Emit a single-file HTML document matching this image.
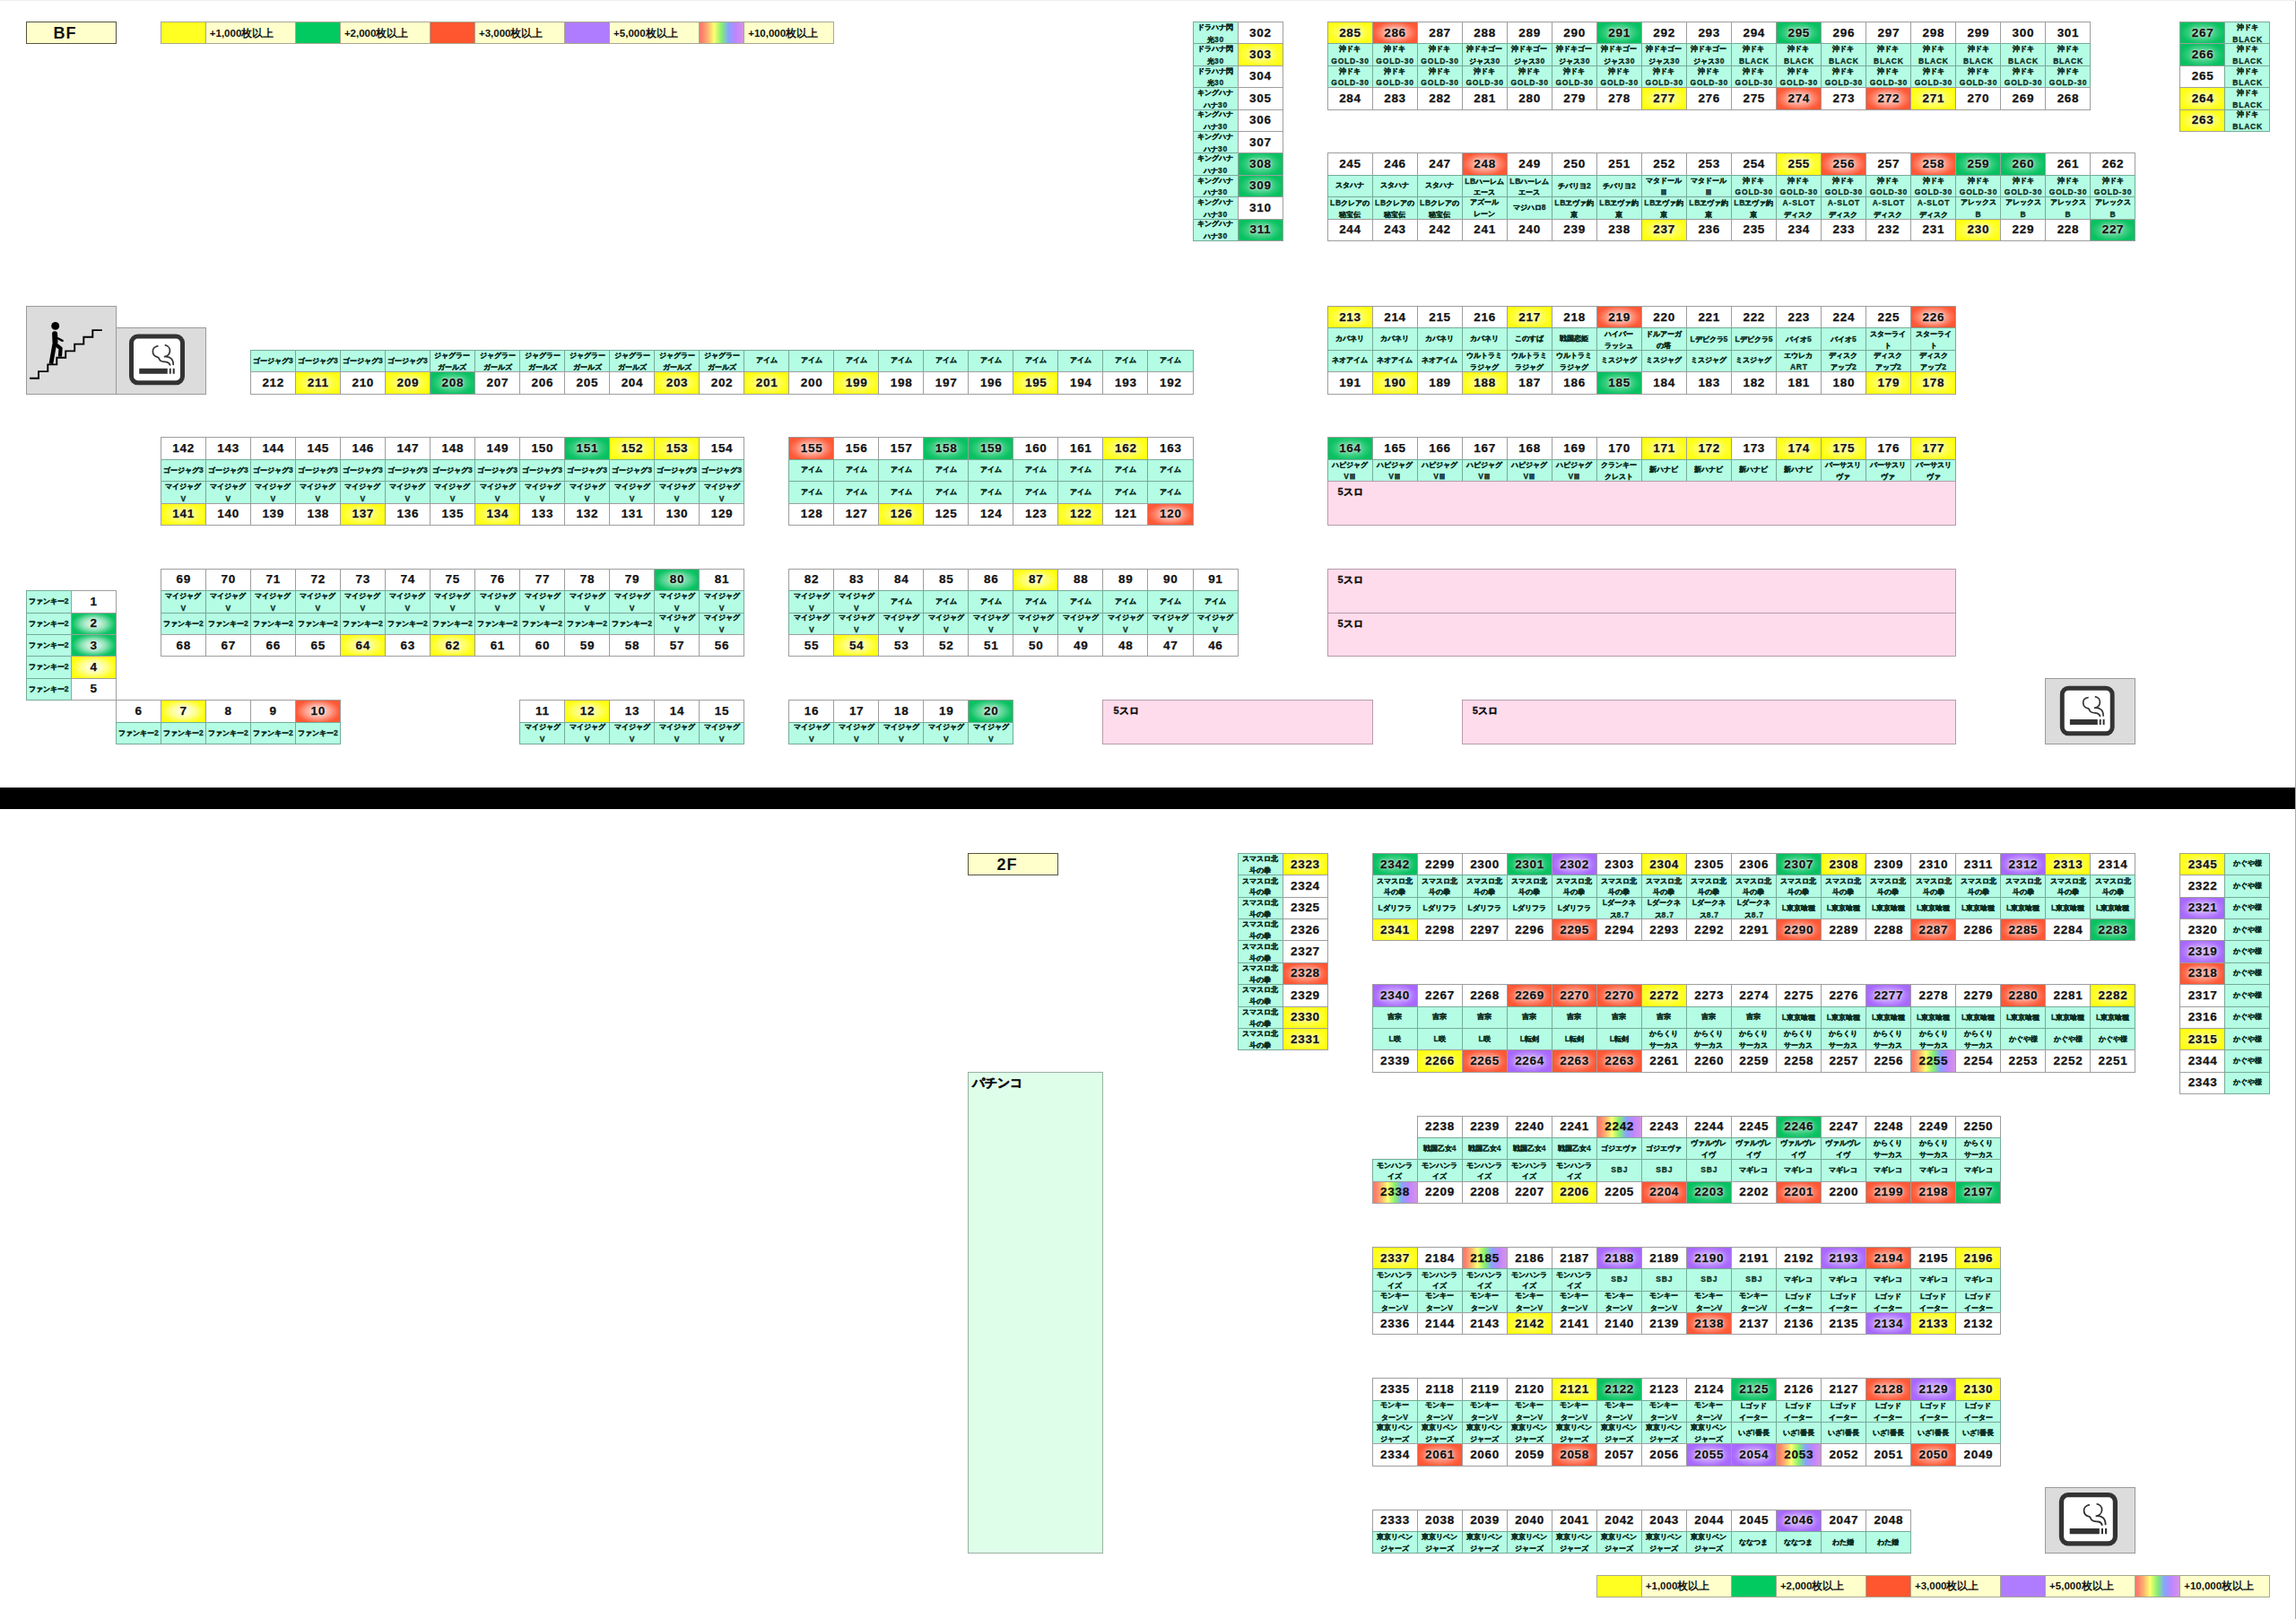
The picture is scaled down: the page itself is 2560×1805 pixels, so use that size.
<!DOCTYPE html><html lang="ja"><head><meta charset="utf-8"><title>BF / 2F</title><style>
html,body{margin:0;padding:0;background:#fff}
body{width:2560px;height:1805px;overflow:hidden;position:relative;font-family:"Liberation Sans",sans-serif;font-weight:bold;color:#111}
#g{position:absolute;left:0;top:0;width:2560px;height:1805px;display:grid;grid-template-columns:28.7px repeat(50,50.04px);grid-template-rows:24px repeat(73,24.4px)}
#g>div{box-sizing:border-box;margin:0 -1px -1px 0;border:1px solid #9e9e9e;display:flex;align-items:center;justify-content:center;text-align:center;white-space:nowrap;overflow:hidden;min-width:0;min-height:0}
.n{background:#fff;font-size:13.5px;letter-spacing:.7px;padding:0 0 1px .7px;-webkit-text-stroke:.25px #111}
#g>.l{background:#b4fde4;border-color:#76ab97;-webkit-text-stroke:.3px #0b2e22;font-size:8px;line-height:12.8px;padding-top:2.8px;color:#0b2e22}
#g>.t{background:#ffffcc;border-color:#55553f;font-size:18px;letter-spacing:1px;z-index:2;padding:2px 13.5px 0 0}
#g>.o{padding-top:.6px}
.l b{font-size:8.5px;letter-spacing:.8px;margin-right:-.8px}
#g>.kt{background:#ffffcc;border-color:#a8a890;font-size:11.5px;justify-content:flex-start;padding-left:4px;padding-top:1px}
#g>.ky,#g>.kg,#g>.kr,#g>.kp,#g>.kw{border-color:#a8a890}
.ky{background:#ffff22}.kg{background:#03c961}.kr{background:#ff5630}.kp{background:#b07cff}
.kw,.n.w{background:linear-gradient(90deg,#ff7a6b 0%,#ff7f6b 6%,#ffb570 19%,#ffff70 33%,#84f070 50%,#84a4ff 66%,#c084ff 82%,#d494e4 100%)}
.n.y{background-color:#ffff14}.n.g{background-color:#06c160}.n.r{background-color:#ff5836}.n.p{background-color:#a868ff}
.n.y,.n.g,.n.r,.n.p{text-shadow:0 0 2px rgba(255,255,255,.8),0 0 4px rgba(255,255,255,.7)}
.n.y,.n.g,.n.r,.n.p{background-image:radial-gradient(ellipse 51% 57%,rgba(255,255,255,var(--a)) 0%,rgba(255,255,255,calc(var(--a)*.92)) 30%,rgba(255,255,255,calc(var(--a)*.62)) 57%,rgba(255,255,255,calc(var(--a)*.2)) 84%,rgba(255,255,255,0) 100%)}
.d1{--a:.82}.d2{--a:.6}.d3{--a:.45}.d4{--a:.32}.g.d2{--a:.55}.g.d3{--a:.36}.g.d4{--a:.3}.r.d2{--a:.7}.r.d3{--a:.58}.r.d4,.p.d4{--a:.42}
#g>.s{background:#ffdcec;border-color:#b89aa9;-webkit-text-stroke:.3px #111;font-size:11px;justify-content:flex-start;align-items:flex-start;line-height:22px;padding-left:11px}
#g>.pc{background:#dffeea;border-color:#9ab0a2;font-size:14px;justify-content:flex-start;align-items:flex-start;line-height:22px;padding-left:3.5px;-webkit-text-stroke:.4px #111}
#g>.i{background:#dcdcdc;border-color:#9a9a9a;display:block}
#g>.i svg{display:block;margin:-1px 0 0 -1px}
#bar{position:absolute;left:0;top:878px;width:2560px;height:24px;background:#000}
#re{position:absolute;left:2559px;top:0;width:1px;height:1805px;background:#a8a8a8}
#te{position:absolute;left:0;top:0;width:2560px;height:1px;background:#efefef}
</style></head><body><div id="g">
<div class="t" style="grid-area:2/2/3/4">BF</div>
<div class="ky" style="grid-area:2/5"></div>
<div class="kt" style="grid-area:2/6/3/8">+1,000枚以上</div>
<div class="kg" style="grid-area:2/8"></div>
<div class="kt" style="grid-area:2/9/3/11">+2,000枚以上</div>
<div class="kr" style="grid-area:2/11"></div>
<div class="kt" style="grid-area:2/12/3/14">+3,000枚以上</div>
<div class="kp" style="grid-area:2/14"></div>
<div class="kt" style="grid-area:2/15/3/17">+5,000枚以上</div>
<div class="kw" style="grid-area:2/17"></div>
<div class="kt" style="grid-area:2/18/3/20">+10,000枚以上</div>
<div class="l" style="grid-area:2/28"><span>ドラハナ閃<br>光<b>30</b></span></div>
<div class="n" style="grid-area:2/29">302</div>
<div class="l" style="grid-area:3/28"><span>ドラハナ閃<br>光<b>30</b></span></div>
<div class="n y d3" style="grid-area:3/29">303</div>
<div class="l" style="grid-area:4/28"><span>ドラハナ閃<br>光<b>30</b></span></div>
<div class="n" style="grid-area:4/29">304</div>
<div class="l" style="grid-area:5/28"><span>キングハナ<br>ハナ<b>30</b></span></div>
<div class="n" style="grid-area:5/29">305</div>
<div class="l" style="grid-area:6/28"><span>キングハナ<br>ハナ<b>30</b></span></div>
<div class="n" style="grid-area:6/29">306</div>
<div class="l" style="grid-area:7/28"><span>キングハナ<br>ハナ<b>30</b></span></div>
<div class="n" style="grid-area:7/29">307</div>
<div class="l" style="grid-area:8/28"><span>キングハナ<br>ハナ<b>30</b></span></div>
<div class="n g d3" style="grid-area:8/29">308</div>
<div class="l" style="grid-area:9/28"><span>キングハナ<br>ハナ<b>30</b></span></div>
<div class="n g d3" style="grid-area:9/29">309</div>
<div class="l" style="grid-area:10/28"><span>キングハナ<br>ハナ<b>30</b></span></div>
<div class="n" style="grid-area:10/29">310</div>
<div class="l" style="grid-area:11/28"><span>キングハナ<br>ハナ<b>30</b></span></div>
<div class="n g d3" style="grid-area:11/29">311</div>
<div class="n y d3" style="grid-area:2/31">285</div>
<div class="n r d3" style="grid-area:2/32">286</div>
<div class="n" style="grid-area:2/33">287</div>
<div class="n" style="grid-area:2/34">288</div>
<div class="n" style="grid-area:2/35">289</div>
<div class="n" style="grid-area:2/36">290</div>
<div class="n g d3" style="grid-area:2/37">291</div>
<div class="n" style="grid-area:2/38">292</div>
<div class="n" style="grid-area:2/39">293</div>
<div class="n" style="grid-area:2/40">294</div>
<div class="n g d3" style="grid-area:2/41">295</div>
<div class="n" style="grid-area:2/42">296</div>
<div class="n" style="grid-area:2/43">297</div>
<div class="n" style="grid-area:2/44">298</div>
<div class="n" style="grid-area:2/45">299</div>
<div class="n" style="grid-area:2/46">300</div>
<div class="n" style="grid-area:2/47">301</div>
<div class="l" style="grid-area:3/31"><span>沖ドキ<br><b>GOLD-30</b></span></div>
<div class="l" style="grid-area:3/32"><span>沖ドキ<br><b>GOLD-30</b></span></div>
<div class="l" style="grid-area:3/33"><span>沖ドキ<br><b>GOLD-30</b></span></div>
<div class="l" style="grid-area:3/34"><span>沖ドキゴー<br>ジャス<b>30</b></span></div>
<div class="l" style="grid-area:3/35"><span>沖ドキゴー<br>ジャス<b>30</b></span></div>
<div class="l" style="grid-area:3/36"><span>沖ドキゴー<br>ジャス<b>30</b></span></div>
<div class="l" style="grid-area:3/37"><span>沖ドキゴー<br>ジャス<b>30</b></span></div>
<div class="l" style="grid-area:3/38"><span>沖ドキゴー<br>ジャス<b>30</b></span></div>
<div class="l" style="grid-area:3/39"><span>沖ドキゴー<br>ジャス<b>30</b></span></div>
<div class="l" style="grid-area:3/40"><span>沖ドキ<br><b>BLACK</b></span></div>
<div class="l" style="grid-area:3/41"><span>沖ドキ<br><b>BLACK</b></span></div>
<div class="l" style="grid-area:3/42"><span>沖ドキ<br><b>BLACK</b></span></div>
<div class="l" style="grid-area:3/43"><span>沖ドキ<br><b>BLACK</b></span></div>
<div class="l" style="grid-area:3/44"><span>沖ドキ<br><b>BLACK</b></span></div>
<div class="l" style="grid-area:3/45"><span>沖ドキ<br><b>BLACK</b></span></div>
<div class="l" style="grid-area:3/46"><span>沖ドキ<br><b>BLACK</b></span></div>
<div class="l" style="grid-area:3/47"><span>沖ドキ<br><b>BLACK</b></span></div>
<div class="l" style="grid-area:4/31"><span>沖ドキ<br><b>GOLD-30</b></span></div>
<div class="l" style="grid-area:4/32"><span>沖ドキ<br><b>GOLD-30</b></span></div>
<div class="l" style="grid-area:4/33"><span>沖ドキ<br><b>GOLD-30</b></span></div>
<div class="l" style="grid-area:4/34"><span>沖ドキ<br><b>GOLD-30</b></span></div>
<div class="l" style="grid-area:4/35"><span>沖ドキ<br><b>GOLD-30</b></span></div>
<div class="l" style="grid-area:4/36"><span>沖ドキ<br><b>GOLD-30</b></span></div>
<div class="l" style="grid-area:4/37"><span>沖ドキ<br><b>GOLD-30</b></span></div>
<div class="l" style="grid-area:4/38"><span>沖ドキ<br><b>GOLD-30</b></span></div>
<div class="l" style="grid-area:4/39"><span>沖ドキ<br><b>GOLD-30</b></span></div>
<div class="l" style="grid-area:4/40"><span>沖ドキ<br><b>GOLD-30</b></span></div>
<div class="l" style="grid-area:4/41"><span>沖ドキ<br><b>GOLD-30</b></span></div>
<div class="l" style="grid-area:4/42"><span>沖ドキ<br><b>GOLD-30</b></span></div>
<div class="l" style="grid-area:4/43"><span>沖ドキ<br><b>GOLD-30</b></span></div>
<div class="l" style="grid-area:4/44"><span>沖ドキ<br><b>GOLD-30</b></span></div>
<div class="l" style="grid-area:4/45"><span>沖ドキ<br><b>GOLD-30</b></span></div>
<div class="l" style="grid-area:4/46"><span>沖ドキ<br><b>GOLD-30</b></span></div>
<div class="l" style="grid-area:4/47"><span>沖ドキ<br><b>GOLD-30</b></span></div>
<div class="n" style="grid-area:5/31">284</div>
<div class="n" style="grid-area:5/32">283</div>
<div class="n" style="grid-area:5/33">282</div>
<div class="n" style="grid-area:5/34">281</div>
<div class="n" style="grid-area:5/35">280</div>
<div class="n" style="grid-area:5/36">279</div>
<div class="n" style="grid-area:5/37">278</div>
<div class="n y d3" style="grid-area:5/38">277</div>
<div class="n" style="grid-area:5/39">276</div>
<div class="n" style="grid-area:5/40">275</div>
<div class="n r d3" style="grid-area:5/41">274</div>
<div class="n" style="grid-area:5/42">273</div>
<div class="n r d3" style="grid-area:5/43">272</div>
<div class="n y d3" style="grid-area:5/44">271</div>
<div class="n" style="grid-area:5/45">270</div>
<div class="n" style="grid-area:5/46">269</div>
<div class="n" style="grid-area:5/47">268</div>
<div class="n g d3" style="grid-area:2/50">267</div>
<div class="l" style="grid-area:2/51"><span>沖ドキ<br><b>BLACK</b></span></div>
<div class="n g d3" style="grid-area:3/50">266</div>
<div class="l" style="grid-area:3/51"><span>沖ドキ<br><b>BLACK</b></span></div>
<div class="n" style="grid-area:4/50">265</div>
<div class="l" style="grid-area:4/51"><span>沖ドキ<br><b>BLACK</b></span></div>
<div class="n y d3" style="grid-area:5/50">264</div>
<div class="l" style="grid-area:5/51"><span>沖ドキ<br><b>BLACK</b></span></div>
<div class="n y d3" style="grid-area:6/50">263</div>
<div class="l" style="grid-area:6/51"><span>沖ドキ<br><b>BLACK</b></span></div>
<div class="n" style="grid-area:8/31">245</div>
<div class="n" style="grid-area:8/32">246</div>
<div class="n" style="grid-area:8/33">247</div>
<div class="n r d3" style="grid-area:8/34">248</div>
<div class="n" style="grid-area:8/35">249</div>
<div class="n" style="grid-area:8/36">250</div>
<div class="n" style="grid-area:8/37">251</div>
<div class="n" style="grid-area:8/38">252</div>
<div class="n" style="grid-area:8/39">253</div>
<div class="n" style="grid-area:8/40">254</div>
<div class="n y d3" style="grid-area:8/41">255</div>
<div class="n r d3" style="grid-area:8/42">256</div>
<div class="n" style="grid-area:8/43">257</div>
<div class="n r d3" style="grid-area:8/44">258</div>
<div class="n g d3" style="grid-area:8/45">259</div>
<div class="n g d3" style="grid-area:8/46">260</div>
<div class="n" style="grid-area:8/47">261</div>
<div class="n" style="grid-area:8/48">262</div>
<div class="l o" style="grid-area:9/31">スタハナ</div>
<div class="l o" style="grid-area:9/32">スタハナ</div>
<div class="l o" style="grid-area:9/33">スタハナ</div>
<div class="l" style="grid-area:9/34"><span><b>LB</b>ハーレム<br>エース</span></div>
<div class="l" style="grid-area:9/35"><span><b>LB</b>ハーレム<br>エース</span></div>
<div class="l o" style="grid-area:9/36"><span>チバリヨ<b>2</b></span></div>
<div class="l o" style="grid-area:9/37"><span>チバリヨ<b>2</b></span></div>
<div class="l" style="grid-area:9/38">マタドール<br>Ⅲ</div>
<div class="l" style="grid-area:9/39">マタドール<br>Ⅲ</div>
<div class="l" style="grid-area:9/40"><span>沖ドキ<br><b>GOLD-30</b></span></div>
<div class="l" style="grid-area:9/41"><span>沖ドキ<br><b>GOLD-30</b></span></div>
<div class="l" style="grid-area:9/42"><span>沖ドキ<br><b>GOLD-30</b></span></div>
<div class="l" style="grid-area:9/43"><span>沖ドキ<br><b>GOLD-30</b></span></div>
<div class="l" style="grid-area:9/44"><span>沖ドキ<br><b>GOLD-30</b></span></div>
<div class="l" style="grid-area:9/45"><span>沖ドキ<br><b>GOLD-30</b></span></div>
<div class="l" style="grid-area:9/46"><span>沖ドキ<br><b>GOLD-30</b></span></div>
<div class="l" style="grid-area:9/47"><span>沖ドキ<br><b>GOLD-30</b></span></div>
<div class="l" style="grid-area:9/48"><span>沖ドキ<br><b>GOLD-30</b></span></div>
<div class="l" style="grid-area:10/31"><span><b>LB</b>クレアの<br>秘宝伝</span></div>
<div class="l" style="grid-area:10/32"><span><b>LB</b>クレアの<br>秘宝伝</span></div>
<div class="l" style="grid-area:10/33"><span><b>LB</b>クレアの<br>秘宝伝</span></div>
<div class="l" style="grid-area:10/34">アズール<br>レーン</div>
<div class="l o" style="grid-area:10/35"><span>マジハロ<b>8</b></span></div>
<div class="l" style="grid-area:10/36"><span><b>LB</b>ヱヴァ約<br>束</span></div>
<div class="l" style="grid-area:10/37"><span><b>LB</b>ヱヴァ約<br>束</span></div>
<div class="l" style="grid-area:10/38"><span><b>LB</b>ヱヴァ約<br>束</span></div>
<div class="l" style="grid-area:10/39"><span><b>LB</b>ヱヴァ約<br>束</span></div>
<div class="l" style="grid-area:10/40"><span><b>LB</b>ヱヴァ約<br>束</span></div>
<div class="l" style="grid-area:10/41"><span><b>A-SLOT</b><br>ディスク</span></div>
<div class="l" style="grid-area:10/42"><span><b>A-SLOT</b><br>ディスク</span></div>
<div class="l" style="grid-area:10/43"><span><b>A-SLOT</b><br>ディスク</span></div>
<div class="l" style="grid-area:10/44"><span><b>A-SLOT</b><br>ディスク</span></div>
<div class="l" style="grid-area:10/45"><span>アレックス<br><b>B</b></span></div>
<div class="l" style="grid-area:10/46"><span>アレックス<br><b>B</b></span></div>
<div class="l" style="grid-area:10/47"><span>アレックス<br><b>B</b></span></div>
<div class="l" style="grid-area:10/48"><span>アレックス<br><b>B</b></span></div>
<div class="n" style="grid-area:11/31">244</div>
<div class="n" style="grid-area:11/32">243</div>
<div class="n" style="grid-area:11/33">242</div>
<div class="n" style="grid-area:11/34">241</div>
<div class="n" style="grid-area:11/35">240</div>
<div class="n" style="grid-area:11/36">239</div>
<div class="n" style="grid-area:11/37">238</div>
<div class="n y d3" style="grid-area:11/38">237</div>
<div class="n" style="grid-area:11/39">236</div>
<div class="n" style="grid-area:11/40">235</div>
<div class="n" style="grid-area:11/41">234</div>
<div class="n" style="grid-area:11/42">233</div>
<div class="n" style="grid-area:11/43">232</div>
<div class="n" style="grid-area:11/44">231</div>
<div class="n y d3" style="grid-area:11/45">230</div>
<div class="n" style="grid-area:11/46">229</div>
<div class="n" style="grid-area:11/47">228</div>
<div class="n g d3" style="grid-area:11/48">227</div>
<div class="i" style="grid-area:15/2/19/4"><svg width="100" height="98" viewBox="0 0 100 98"><path d="M4.1 80.7H14V73.1H24.3V65.4H34.3V57.8H44.2V50.4H54.2V42.6H64.3V34.8H74.3V27.1H84.8" fill="none" stroke="#000" stroke-width="1.9"/><circle cx="32.7" cy="22.4" r="4.45"/><path d="M32.1 31.2L32.5 40.5" stroke="#000" stroke-width="6" stroke-linecap="round"/><path d="M35.2 36L40.6 38.8" stroke="#000" stroke-width="2.5" stroke-linecap="round"/><path d="M31.8 42.5L27.9 64.6" stroke="#000" stroke-width="4.7"/><path d="M33.2 43.2L38.6 47.4L37.9 56.6" fill="none" stroke="#000" stroke-width="4.2" stroke-linejoin="round"/></svg></div>
<div class="i" style="grid-area:16/4/19/6"><svg width="100" height="73" viewBox="0 0 100 73"><g transform="translate(-2.1 -1.1) scale(1.02)" fill="none" stroke="#333"><rect x="19.2" y="11" width="55.9" height="50.6" rx="7" fill="#fff" stroke-width="4.9"/><path d="M48.6 21.3C44.6 21.9 42.4 24.6 42.6 27.6C42.8 30.7 45 33 47.6 33.5C49.6 33.9 49.4 35.6 50.4 36.8C52.2 39 55 38.6 57.6 38.9C60 39.3 61.2 41 61.7 42.8M55.7 20.4C59.2 21 61.5 23.6 61.3 26.8C61.1 30.6 58 32.8 54.8 33.2C57.6 32.6 60.6 33.4 62.6 35C64.8 37 65.1 39.5 65 42.4" stroke-width="1.7"/><path d="M27.8 45.9h30.9v5.9h-30.9zM60.7 45.9h1.9v5.9h-1.9zM64.5 45.9h2v5.9h-2z" fill="#333" stroke="none"/></g></svg></div>
<div class="l o" style="grid-area:17/7"><span>ゴージャグ<b>3</b></span></div>
<div class="l o" style="grid-area:17/8"><span>ゴージャグ<b>3</b></span></div>
<div class="l o" style="grid-area:17/9"><span>ゴージャグ<b>3</b></span></div>
<div class="l o" style="grid-area:17/10"><span>ゴージャグ<b>3</b></span></div>
<div class="l" style="grid-area:17/11">ジャグラー<br>ガールズ</div>
<div class="l" style="grid-area:17/12">ジャグラー<br>ガールズ</div>
<div class="l" style="grid-area:17/13">ジャグラー<br>ガールズ</div>
<div class="l" style="grid-area:17/14">ジャグラー<br>ガールズ</div>
<div class="l" style="grid-area:17/15">ジャグラー<br>ガールズ</div>
<div class="l" style="grid-area:17/16">ジャグラー<br>ガールズ</div>
<div class="l" style="grid-area:17/17">ジャグラー<br>ガールズ</div>
<div class="l o" style="grid-area:17/18">アイム</div>
<div class="l o" style="grid-area:17/19">アイム</div>
<div class="l o" style="grid-area:17/20">アイム</div>
<div class="l o" style="grid-area:17/21">アイム</div>
<div class="l o" style="grid-area:17/22">アイム</div>
<div class="l o" style="grid-area:17/23">アイム</div>
<div class="l o" style="grid-area:17/24">アイム</div>
<div class="l o" style="grid-area:17/25">アイム</div>
<div class="l o" style="grid-area:17/26">アイム</div>
<div class="l o" style="grid-area:17/27">アイム</div>
<div class="n" style="grid-area:18/7">212</div>
<div class="n y d3" style="grid-area:18/8">211</div>
<div class="n" style="grid-area:18/9">210</div>
<div class="n y d3" style="grid-area:18/10">209</div>
<div class="n g d3" style="grid-area:18/11">208</div>
<div class="n" style="grid-area:18/12">207</div>
<div class="n" style="grid-area:18/13">206</div>
<div class="n" style="grid-area:18/14">205</div>
<div class="n" style="grid-area:18/15">204</div>
<div class="n y d3" style="grid-area:18/16">203</div>
<div class="n" style="grid-area:18/17">202</div>
<div class="n y d3" style="grid-area:18/18">201</div>
<div class="n" style="grid-area:18/19">200</div>
<div class="n y d3" style="grid-area:18/20">199</div>
<div class="n" style="grid-area:18/21">198</div>
<div class="n" style="grid-area:18/22">197</div>
<div class="n" style="grid-area:18/23">196</div>
<div class="n y d3" style="grid-area:18/24">195</div>
<div class="n" style="grid-area:18/25">194</div>
<div class="n" style="grid-area:18/26">193</div>
<div class="n" style="grid-area:18/27">192</div>
<div class="n y d3" style="grid-area:15/31">213</div>
<div class="n" style="grid-area:15/32">214</div>
<div class="n" style="grid-area:15/33">215</div>
<div class="n" style="grid-area:15/34">216</div>
<div class="n y d3" style="grid-area:15/35">217</div>
<div class="n" style="grid-area:15/36">218</div>
<div class="n r d3" style="grid-area:15/37">219</div>
<div class="n" style="grid-area:15/38">220</div>
<div class="n" style="grid-area:15/39">221</div>
<div class="n" style="grid-area:15/40">222</div>
<div class="n" style="grid-area:15/41">223</div>
<div class="n" style="grid-area:15/42">224</div>
<div class="n" style="grid-area:15/43">225</div>
<div class="n r d3" style="grid-area:15/44">226</div>
<div class="l o" style="grid-area:16/31">カバネリ</div>
<div class="l o" style="grid-area:16/32">カバネリ</div>
<div class="l o" style="grid-area:16/33">カバネリ</div>
<div class="l o" style="grid-area:16/34">カバネリ</div>
<div class="l o" style="grid-area:16/35">このすば</div>
<div class="l o" style="grid-area:16/36">戦国恋姫</div>
<div class="l" style="grid-area:16/37">ハイパー<br>ラッシュ</div>
<div class="l" style="grid-area:16/38">ドルアーガ<br>の塔</div>
<div class="l o" style="grid-area:16/39"><span><b>L</b>デビクラ<b>5</b></span></div>
<div class="l o" style="grid-area:16/40"><span><b>L</b>デビクラ<b>5</b></span></div>
<div class="l o" style="grid-area:16/41"><span>バイオ<b>5</b></span></div>
<div class="l o" style="grid-area:16/42"><span>バイオ<b>5</b></span></div>
<div class="l" style="grid-area:16/43">スターライ<br>ト</div>
<div class="l" style="grid-area:16/44">スターライ<br>ト</div>
<div class="l o" style="grid-area:17/31">ネオアイム</div>
<div class="l o" style="grid-area:17/32">ネオアイム</div>
<div class="l o" style="grid-area:17/33">ネオアイム</div>
<div class="l" style="grid-area:17/34">ウルトラミ<br>ラジャグ</div>
<div class="l" style="grid-area:17/35">ウルトラミ<br>ラジャグ</div>
<div class="l" style="grid-area:17/36">ウルトラミ<br>ラジャグ</div>
<div class="l o" style="grid-area:17/37">ミスジャグ</div>
<div class="l o" style="grid-area:17/38">ミスジャグ</div>
<div class="l o" style="grid-area:17/39">ミスジャグ</div>
<div class="l o" style="grid-area:17/40">ミスジャグ</div>
<div class="l" style="grid-area:17/41"><span>エウレカ<br><b>ART</b></span></div>
<div class="l" style="grid-area:17/42"><span>ディスク<br>アップ<b>2</b></span></div>
<div class="l" style="grid-area:17/43"><span>ディスク<br>アップ<b>2</b></span></div>
<div class="l" style="grid-area:17/44"><span>ディスク<br>アップ<b>2</b></span></div>
<div class="n" style="grid-area:18/31">191</div>
<div class="n y d3" style="grid-area:18/32">190</div>
<div class="n" style="grid-area:18/33">189</div>
<div class="n y d3" style="grid-area:18/34">188</div>
<div class="n" style="grid-area:18/35">187</div>
<div class="n" style="grid-area:18/36">186</div>
<div class="n g d3" style="grid-area:18/37">185</div>
<div class="n" style="grid-area:18/38">184</div>
<div class="n" style="grid-area:18/39">183</div>
<div class="n" style="grid-area:18/40">182</div>
<div class="n" style="grid-area:18/41">181</div>
<div class="n" style="grid-area:18/42">180</div>
<div class="n y d3" style="grid-area:18/43">179</div>
<div class="n y d3" style="grid-area:18/44">178</div>
<div class="n" style="grid-area:21/5">142</div>
<div class="n" style="grid-area:21/6">143</div>
<div class="n" style="grid-area:21/7">144</div>
<div class="n" style="grid-area:21/8">145</div>
<div class="n" style="grid-area:21/9">146</div>
<div class="n" style="grid-area:21/10">147</div>
<div class="n" style="grid-area:21/11">148</div>
<div class="n" style="grid-area:21/12">149</div>
<div class="n" style="grid-area:21/13">150</div>
<div class="n g d3" style="grid-area:21/14">151</div>
<div class="n y d3" style="grid-area:21/15">152</div>
<div class="n y d3" style="grid-area:21/16">153</div>
<div class="n" style="grid-area:21/17">154</div>
<div class="l o" style="grid-area:22/5"><span>ゴージャグ<b>3</b></span></div>
<div class="l o" style="grid-area:22/6"><span>ゴージャグ<b>3</b></span></div>
<div class="l o" style="grid-area:22/7"><span>ゴージャグ<b>3</b></span></div>
<div class="l o" style="grid-area:22/8"><span>ゴージャグ<b>3</b></span></div>
<div class="l o" style="grid-area:22/9"><span>ゴージャグ<b>3</b></span></div>
<div class="l o" style="grid-area:22/10"><span>ゴージャグ<b>3</b></span></div>
<div class="l o" style="grid-area:22/11"><span>ゴージャグ<b>3</b></span></div>
<div class="l o" style="grid-area:22/12"><span>ゴージャグ<b>3</b></span></div>
<div class="l o" style="grid-area:22/13"><span>ゴージャグ<b>3</b></span></div>
<div class="l o" style="grid-area:22/14"><span>ゴージャグ<b>3</b></span></div>
<div class="l o" style="grid-area:22/15"><span>ゴージャグ<b>3</b></span></div>
<div class="l o" style="grid-area:22/16"><span>ゴージャグ<b>3</b></span></div>
<div class="l o" style="grid-area:22/17"><span>ゴージャグ<b>3</b></span></div>
<div class="l" style="grid-area:23/5"><span>マイジャグ<br><b>V</b></span></div>
<div class="l" style="grid-area:23/6"><span>マイジャグ<br><b>V</b></span></div>
<div class="l" style="grid-area:23/7"><span>マイジャグ<br><b>V</b></span></div>
<div class="l" style="grid-area:23/8"><span>マイジャグ<br><b>V</b></span></div>
<div class="l" style="grid-area:23/9"><span>マイジャグ<br><b>V</b></span></div>
<div class="l" style="grid-area:23/10"><span>マイジャグ<br><b>V</b></span></div>
<div class="l" style="grid-area:23/11"><span>マイジャグ<br><b>V</b></span></div>
<div class="l" style="grid-area:23/12"><span>マイジャグ<br><b>V</b></span></div>
<div class="l" style="grid-area:23/13"><span>マイジャグ<br><b>V</b></span></div>
<div class="l" style="grid-area:23/14"><span>マイジャグ<br><b>V</b></span></div>
<div class="l" style="grid-area:23/15"><span>マイジャグ<br><b>V</b></span></div>
<div class="l" style="grid-area:23/16"><span>マイジャグ<br><b>V</b></span></div>
<div class="l" style="grid-area:23/17"><span>マイジャグ<br><b>V</b></span></div>
<div class="n y d3" style="grid-area:24/5">141</div>
<div class="n" style="grid-area:24/6">140</div>
<div class="n" style="grid-area:24/7">139</div>
<div class="n" style="grid-area:24/8">138</div>
<div class="n y d3" style="grid-area:24/9">137</div>
<div class="n" style="grid-area:24/10">136</div>
<div class="n" style="grid-area:24/11">135</div>
<div class="n y d3" style="grid-area:24/12">134</div>
<div class="n" style="grid-area:24/13">133</div>
<div class="n" style="grid-area:24/14">132</div>
<div class="n" style="grid-area:24/15">131</div>
<div class="n" style="grid-area:24/16">130</div>
<div class="n" style="grid-area:24/17">129</div>
<div class="n r d3" style="grid-area:21/19">155</div>
<div class="n" style="grid-area:21/20">156</div>
<div class="n" style="grid-area:21/21">157</div>
<div class="n g d3" style="grid-area:21/22">158</div>
<div class="n g d3" style="grid-area:21/23">159</div>
<div class="n" style="grid-area:21/24">160</div>
<div class="n" style="grid-area:21/25">161</div>
<div class="n y d3" style="grid-area:21/26">162</div>
<div class="n" style="grid-area:21/27">163</div>
<div class="l o" style="grid-area:22/19">アイム</div>
<div class="l o" style="grid-area:22/20">アイム</div>
<div class="l o" style="grid-area:22/21">アイム</div>
<div class="l o" style="grid-area:22/22">アイム</div>
<div class="l o" style="grid-area:22/23">アイム</div>
<div class="l o" style="grid-area:22/24">アイム</div>
<div class="l o" style="grid-area:22/25">アイム</div>
<div class="l o" style="grid-area:22/26">アイム</div>
<div class="l o" style="grid-area:22/27">アイム</div>
<div class="l o" style="grid-area:23/19">アイム</div>
<div class="l o" style="grid-area:23/20">アイム</div>
<div class="l o" style="grid-area:23/21">アイム</div>
<div class="l o" style="grid-area:23/22">アイム</div>
<div class="l o" style="grid-area:23/23">アイム</div>
<div class="l o" style="grid-area:23/24">アイム</div>
<div class="l o" style="grid-area:23/25">アイム</div>
<div class="l o" style="grid-area:23/26">アイム</div>
<div class="l o" style="grid-area:23/27">アイム</div>
<div class="n" style="grid-area:24/19">128</div>
<div class="n" style="grid-area:24/20">127</div>
<div class="n y d3" style="grid-area:24/21">126</div>
<div class="n" style="grid-area:24/22">125</div>
<div class="n" style="grid-area:24/23">124</div>
<div class="n" style="grid-area:24/24">123</div>
<div class="n y d3" style="grid-area:24/25">122</div>
<div class="n" style="grid-area:24/26">121</div>
<div class="n r d3" style="grid-area:24/27">120</div>
<div class="n g d3" style="grid-area:21/31">164</div>
<div class="n" style="grid-area:21/32">165</div>
<div class="n" style="grid-area:21/33">166</div>
<div class="n" style="grid-area:21/34">167</div>
<div class="n" style="grid-area:21/35">168</div>
<div class="n" style="grid-area:21/36">169</div>
<div class="n" style="grid-area:21/37">170</div>
<div class="n y d3" style="grid-area:21/38">171</div>
<div class="n y d3" style="grid-area:21/39">172</div>
<div class="n" style="grid-area:21/40">173</div>
<div class="n y d3" style="grid-area:21/41">174</div>
<div class="n y d3" style="grid-area:21/42">175</div>
<div class="n" style="grid-area:21/43">176</div>
<div class="n y d3" style="grid-area:21/44">177</div>
<div class="l" style="grid-area:22/31"><span>ハピジャグ<br><b>V</b>Ⅲ</span></div>
<div class="l" style="grid-area:22/32"><span>ハピジャグ<br><b>V</b>Ⅲ</span></div>
<div class="l" style="grid-area:22/33"><span>ハピジャグ<br><b>V</b>Ⅲ</span></div>
<div class="l" style="grid-area:22/34"><span>ハピジャグ<br><b>V</b>Ⅲ</span></div>
<div class="l" style="grid-area:22/35"><span>ハピジャグ<br><b>V</b>Ⅲ</span></div>
<div class="l" style="grid-area:22/36"><span>ハピジャグ<br><b>V</b>Ⅲ</span></div>
<div class="l" style="grid-area:22/37">クランキー<br>クレスト</div>
<div class="l o" style="grid-area:22/38">新ハナビ</div>
<div class="l o" style="grid-area:22/39">新ハナビ</div>
<div class="l o" style="grid-area:22/40">新ハナビ</div>
<div class="l o" style="grid-area:22/41">新ハナビ</div>
<div class="l" style="grid-area:22/42">バーサスリ<br>ヴァ</div>
<div class="l" style="grid-area:22/43">バーサスリ<br>ヴァ</div>
<div class="l" style="grid-area:22/44">バーサスリ<br>ヴァ</div>
<div class="s" style="grid-area:23/31/25/45">5スロ</div>
<div class="n" style="grid-area:27/5">69</div>
<div class="n" style="grid-area:27/6">70</div>
<div class="n" style="grid-area:27/7">71</div>
<div class="n" style="grid-area:27/8">72</div>
<div class="n" style="grid-area:27/9">73</div>
<div class="n" style="grid-area:27/10">74</div>
<div class="n" style="grid-area:27/11">75</div>
<div class="n" style="grid-area:27/12">76</div>
<div class="n" style="grid-area:27/13">77</div>
<div class="n" style="grid-area:27/14">78</div>
<div class="n" style="grid-area:27/15">79</div>
<div class="n g d2" style="grid-area:27/16">80</div>
<div class="n" style="grid-area:27/17">81</div>
<div class="l" style="grid-area:28/5"><span>マイジャグ<br><b>V</b></span></div>
<div class="l" style="grid-area:28/6"><span>マイジャグ<br><b>V</b></span></div>
<div class="l" style="grid-area:28/7"><span>マイジャグ<br><b>V</b></span></div>
<div class="l" style="grid-area:28/8"><span>マイジャグ<br><b>V</b></span></div>
<div class="l" style="grid-area:28/9"><span>マイジャグ<br><b>V</b></span></div>
<div class="l" style="grid-area:28/10"><span>マイジャグ<br><b>V</b></span></div>
<div class="l" style="grid-area:28/11"><span>マイジャグ<br><b>V</b></span></div>
<div class="l" style="grid-area:28/12"><span>マイジャグ<br><b>V</b></span></div>
<div class="l" style="grid-area:28/13"><span>マイジャグ<br><b>V</b></span></div>
<div class="l" style="grid-area:28/14"><span>マイジャグ<br><b>V</b></span></div>
<div class="l" style="grid-area:28/15"><span>マイジャグ<br><b>V</b></span></div>
<div class="l" style="grid-area:28/16"><span>マイジャグ<br><b>V</b></span></div>
<div class="l" style="grid-area:28/17"><span>マイジャグ<br><b>V</b></span></div>
<div class="l o" style="grid-area:29/5"><span>ファンキー<b>2</b></span></div>
<div class="l o" style="grid-area:29/6"><span>ファンキー<b>2</b></span></div>
<div class="l o" style="grid-area:29/7"><span>ファンキー<b>2</b></span></div>
<div class="l o" style="grid-area:29/8"><span>ファンキー<b>2</b></span></div>
<div class="l o" style="grid-area:29/9"><span>ファンキー<b>2</b></span></div>
<div class="l o" style="grid-area:29/10"><span>ファンキー<b>2</b></span></div>
<div class="l o" style="grid-area:29/11"><span>ファンキー<b>2</b></span></div>
<div class="l o" style="grid-area:29/12"><span>ファンキー<b>2</b></span></div>
<div class="l o" style="grid-area:29/13"><span>ファンキー<b>2</b></span></div>
<div class="l o" style="grid-area:29/14"><span>ファンキー<b>2</b></span></div>
<div class="l o" style="grid-area:29/15"><span>ファンキー<b>2</b></span></div>
<div class="l" style="grid-area:29/16"><span>マイジャグ<br><b>V</b></span></div>
<div class="l" style="grid-area:29/17"><span>マイジャグ<br><b>V</b></span></div>
<div class="n" style="grid-area:30/5">68</div>
<div class="n" style="grid-area:30/6">67</div>
<div class="n" style="grid-area:30/7">66</div>
<div class="n" style="grid-area:30/8">65</div>
<div class="n y d2" style="grid-area:30/9">64</div>
<div class="n" style="grid-area:30/10">63</div>
<div class="n y d2" style="grid-area:30/11">62</div>
<div class="n" style="grid-area:30/12">61</div>
<div class="n" style="grid-area:30/13">60</div>
<div class="n" style="grid-area:30/14">59</div>
<div class="n" style="grid-area:30/15">58</div>
<div class="n" style="grid-area:30/16">57</div>
<div class="n" style="grid-area:30/17">56</div>
<div class="l o" style="grid-area:28/2"><span>ファンキー<b>2</b></span></div>
<div class="n" style="grid-area:28/3">1</div>
<div class="l o" style="grid-area:29/2"><span>ファンキー<b>2</b></span></div>
<div class="n g d1" style="grid-area:29/3">2</div>
<div class="l o" style="grid-area:30/2"><span>ファンキー<b>2</b></span></div>
<div class="n g d1" style="grid-area:30/3">3</div>
<div class="l o" style="grid-area:31/2"><span>ファンキー<b>2</b></span></div>
<div class="n y d1" style="grid-area:31/3">4</div>
<div class="l o" style="grid-area:32/2"><span>ファンキー<b>2</b></span></div>
<div class="n" style="grid-area:32/3">5</div>
<div class="n" style="grid-area:33/4">6</div>
<div class="n y d1" style="grid-area:33/5">7</div>
<div class="n" style="grid-area:33/6">8</div>
<div class="n" style="grid-area:33/7">9</div>
<div class="n r d2" style="grid-area:33/8">10</div>
<div class="l o" style="grid-area:34/4"><span>ファンキー<b>2</b></span></div>
<div class="l o" style="grid-area:34/5"><span>ファンキー<b>2</b></span></div>
<div class="l o" style="grid-area:34/6"><span>ファンキー<b>2</b></span></div>
<div class="l o" style="grid-area:34/7"><span>ファンキー<b>2</b></span></div>
<div class="l o" style="grid-area:34/8"><span>ファンキー<b>2</b></span></div>
<div class="n" style="grid-area:33/13">11</div>
<div class="n y d2" style="grid-area:33/14">12</div>
<div class="n" style="grid-area:33/15">13</div>
<div class="n" style="grid-area:33/16">14</div>
<div class="n" style="grid-area:33/17">15</div>
<div class="l" style="grid-area:34/13"><span>マイジャグ<br><b>V</b></span></div>
<div class="l" style="grid-area:34/14"><span>マイジャグ<br><b>V</b></span></div>
<div class="l" style="grid-area:34/15"><span>マイジャグ<br><b>V</b></span></div>
<div class="l" style="grid-area:34/16"><span>マイジャグ<br><b>V</b></span></div>
<div class="l" style="grid-area:34/17"><span>マイジャグ<br><b>V</b></span></div>
<div class="n" style="grid-area:27/19">82</div>
<div class="n" style="grid-area:27/20">83</div>
<div class="n" style="grid-area:27/21">84</div>
<div class="n" style="grid-area:27/22">85</div>
<div class="n" style="grid-area:27/23">86</div>
<div class="n y d2" style="grid-area:27/24">87</div>
<div class="n" style="grid-area:27/25">88</div>
<div class="n" style="grid-area:27/26">89</div>
<div class="n" style="grid-area:27/27">90</div>
<div class="n" style="grid-area:27/28">91</div>
<div class="l" style="grid-area:28/19"><span>マイジャグ<br><b>V</b></span></div>
<div class="l" style="grid-area:28/20"><span>マイジャグ<br><b>V</b></span></div>
<div class="l o" style="grid-area:28/21">アイム</div>
<div class="l o" style="grid-area:28/22">アイム</div>
<div class="l o" style="grid-area:28/23">アイム</div>
<div class="l o" style="grid-area:28/24">アイム</div>
<div class="l o" style="grid-area:28/25">アイム</div>
<div class="l o" style="grid-area:28/26">アイム</div>
<div class="l o" style="grid-area:28/27">アイム</div>
<div class="l o" style="grid-area:28/28">アイム</div>
<div class="l" style="grid-area:29/19"><span>マイジャグ<br><b>V</b></span></div>
<div class="l" style="grid-area:29/20"><span>マイジャグ<br><b>V</b></span></div>
<div class="l" style="grid-area:29/21"><span>マイジャグ<br><b>V</b></span></div>
<div class="l" style="grid-area:29/22"><span>マイジャグ<br><b>V</b></span></div>
<div class="l" style="grid-area:29/23"><span>マイジャグ<br><b>V</b></span></div>
<div class="l" style="grid-area:29/24"><span>マイジャグ<br><b>V</b></span></div>
<div class="l" style="grid-area:29/25"><span>マイジャグ<br><b>V</b></span></div>
<div class="l" style="grid-area:29/26"><span>マイジャグ<br><b>V</b></span></div>
<div class="l" style="grid-area:29/27"><span>マイジャグ<br><b>V</b></span></div>
<div class="l" style="grid-area:29/28"><span>マイジャグ<br><b>V</b></span></div>
<div class="n" style="grid-area:30/19">55</div>
<div class="n y d2" style="grid-area:30/20">54</div>
<div class="n" style="grid-area:30/21">53</div>
<div class="n" style="grid-area:30/22">52</div>
<div class="n" style="grid-area:30/23">51</div>
<div class="n" style="grid-area:30/24">50</div>
<div class="n" style="grid-area:30/25">49</div>
<div class="n" style="grid-area:30/26">48</div>
<div class="n" style="grid-area:30/27">47</div>
<div class="n" style="grid-area:30/28">46</div>
<div class="n" style="grid-area:33/19">16</div>
<div class="n" style="grid-area:33/20">17</div>
<div class="n" style="grid-area:33/21">18</div>
<div class="n" style="grid-area:33/22">19</div>
<div class="n g d2" style="grid-area:33/23">20</div>
<div class="l" style="grid-area:34/19"><span>マイジャグ<br><b>V</b></span></div>
<div class="l" style="grid-area:34/20"><span>マイジャグ<br><b>V</b></span></div>
<div class="l" style="grid-area:34/21"><span>マイジャグ<br><b>V</b></span></div>
<div class="l" style="grid-area:34/22"><span>マイジャグ<br><b>V</b></span></div>
<div class="l" style="grid-area:34/23"><span>マイジャグ<br><b>V</b></span></div>
<div class="s" style="grid-area:27/31/29/45">5スロ</div>
<div class="s" style="grid-area:29/31/31/45">5スロ</div>
<div class="s" style="grid-area:33/26/35/32">5スロ</div>
<div class="s" style="grid-area:33/34/35/45">5スロ</div>
<div class="i" style="grid-area:32/47/35/49"><svg width="100" height="73" viewBox="0 0 100 73"><g transform="translate(0.1 0.2) scale(1)" fill="none" stroke="#333"><rect x="19.2" y="11" width="55.9" height="50.6" rx="7" fill="#fff" stroke-width="4.9"/><path d="M48.6 21.3C44.6 21.9 42.4 24.6 42.6 27.6C42.8 30.7 45 33 47.6 33.5C49.6 33.9 49.4 35.6 50.4 36.8C52.2 39 55 38.6 57.6 38.9C60 39.3 61.2 41 61.7 42.8M55.7 20.4C59.2 21 61.5 23.6 61.3 26.8C61.1 30.6 58 32.8 54.8 33.2C57.6 32.6 60.6 33.4 62.6 35C64.8 37 65.1 39.5 65 42.4" stroke-width="1.7"/><path d="M27.8 45.9h30.9v5.9h-30.9zM60.7 45.9h1.9v5.9h-1.9zM64.5 45.9h2v5.9h-2z" fill="#333" stroke="none"/></g></svg></div>
<div class="t" style="grid-area:40/23/41/25">2F</div>
<div class="l" style="grid-area:40/29">スマスロ北<br>斗の拳</div>
<div class="n y d4" style="grid-area:40/30">2323</div>
<div class="l" style="grid-area:41/29">スマスロ北<br>斗の拳</div>
<div class="n" style="grid-area:41/30">2324</div>
<div class="l" style="grid-area:42/29">スマスロ北<br>斗の拳</div>
<div class="n" style="grid-area:42/30">2325</div>
<div class="l" style="grid-area:43/29">スマスロ北<br>斗の拳</div>
<div class="n" style="grid-area:43/30">2326</div>
<div class="l" style="grid-area:44/29">スマスロ北<br>斗の拳</div>
<div class="n" style="grid-area:44/30">2327</div>
<div class="l" style="grid-area:45/29">スマスロ北<br>斗の拳</div>
<div class="n r d4" style="grid-area:45/30">2328</div>
<div class="l" style="grid-area:46/29">スマスロ北<br>斗の拳</div>
<div class="n" style="grid-area:46/30">2329</div>
<div class="l" style="grid-area:47/29">スマスロ北<br>斗の拳</div>
<div class="n y d4" style="grid-area:47/30">2330</div>
<div class="l" style="grid-area:48/29">スマスロ北<br>斗の拳</div>
<div class="n y d4" style="grid-area:48/30">2331</div>
<div class="pc" style="grid-area:50/23/72/26">パチンコ</div>
<div class="n g d4" style="grid-area:40/32">2342</div>
<div class="n" style="grid-area:40/33">2299</div>
<div class="n" style="grid-area:40/34">2300</div>
<div class="n g d4" style="grid-area:40/35">2301</div>
<div class="n p d4" style="grid-area:40/36">2302</div>
<div class="n" style="grid-area:40/37">2303</div>
<div class="n y d4" style="grid-area:40/38">2304</div>
<div class="n" style="grid-area:40/39">2305</div>
<div class="n" style="grid-area:40/40">2306</div>
<div class="n g d4" style="grid-area:40/41">2307</div>
<div class="n y d4" style="grid-area:40/42">2308</div>
<div class="n" style="grid-area:40/43">2309</div>
<div class="n" style="grid-area:40/44">2310</div>
<div class="n" style="grid-area:40/45">2311</div>
<div class="n p d4" style="grid-area:40/46">2312</div>
<div class="n y d4" style="grid-area:40/47">2313</div>
<div class="n" style="grid-area:40/48">2314</div>
<div class="l" style="grid-area:41/32">スマスロ北<br>斗の拳</div>
<div class="l" style="grid-area:41/33">スマスロ北<br>斗の拳</div>
<div class="l" style="grid-area:41/34">スマスロ北<br>斗の拳</div>
<div class="l" style="grid-area:41/35">スマスロ北<br>斗の拳</div>
<div class="l" style="grid-area:41/36">スマスロ北<br>斗の拳</div>
<div class="l" style="grid-area:41/37">スマスロ北<br>斗の拳</div>
<div class="l" style="grid-area:41/38">スマスロ北<br>斗の拳</div>
<div class="l" style="grid-area:41/39">スマスロ北<br>斗の拳</div>
<div class="l" style="grid-area:41/40">スマスロ北<br>斗の拳</div>
<div class="l" style="grid-area:41/41">スマスロ北<br>斗の拳</div>
<div class="l" style="grid-area:41/42">スマスロ北<br>斗の拳</div>
<div class="l" style="grid-area:41/43">スマスロ北<br>斗の拳</div>
<div class="l" style="grid-area:41/44">スマスロ北<br>斗の拳</div>
<div class="l" style="grid-area:41/45">スマスロ北<br>斗の拳</div>
<div class="l" style="grid-area:41/46">スマスロ北<br>斗の拳</div>
<div class="l" style="grid-area:41/47">スマスロ北<br>斗の拳</div>
<div class="l" style="grid-area:41/48">スマスロ北<br>斗の拳</div>
<div class="l o" style="grid-area:42/32"><span><b>L</b>ダリフラ</span></div>
<div class="l o" style="grid-area:42/33"><span><b>L</b>ダリフラ</span></div>
<div class="l o" style="grid-area:42/34"><span><b>L</b>ダリフラ</span></div>
<div class="l o" style="grid-area:42/35"><span><b>L</b>ダリフラ</span></div>
<div class="l o" style="grid-area:42/36"><span><b>L</b>ダリフラ</span></div>
<div class="l" style="grid-area:42/37"><span><b>L</b>ダークネ<br>ス<b>8.7</b></span></div>
<div class="l" style="grid-area:42/38"><span><b>L</b>ダークネ<br>ス<b>8.7</b></span></div>
<div class="l" style="grid-area:42/39"><span><b>L</b>ダークネ<br>ス<b>8.7</b></span></div>
<div class="l" style="grid-area:42/40"><span><b>L</b>ダークネ<br>ス<b>8.7</b></span></div>
<div class="l o" style="grid-area:42/41"><span><b>L</b>東京喰種</span></div>
<div class="l o" style="grid-area:42/42"><span><b>L</b>東京喰種</span></div>
<div class="l o" style="grid-area:42/43"><span><b>L</b>東京喰種</span></div>
<div class="l o" style="grid-area:42/44"><span><b>L</b>東京喰種</span></div>
<div class="l o" style="grid-area:42/45"><span><b>L</b>東京喰種</span></div>
<div class="l o" style="grid-area:42/46"><span><b>L</b>東京喰種</span></div>
<div class="l o" style="grid-area:42/47"><span><b>L</b>東京喰種</span></div>
<div class="l o" style="grid-area:42/48"><span><b>L</b>東京喰種</span></div>
<div class="n y d4" style="grid-area:43/32">2341</div>
<div class="n" style="grid-area:43/33">2298</div>
<div class="n" style="grid-area:43/34">2297</div>
<div class="n" style="grid-area:43/35">2296</div>
<div class="n r d4" style="grid-area:43/36">2295</div>
<div class="n" style="grid-area:43/37">2294</div>
<div class="n" style="grid-area:43/38">2293</div>
<div class="n" style="grid-area:43/39">2292</div>
<div class="n" style="grid-area:43/40">2291</div>
<div class="n r d4" style="grid-area:43/41">2290</div>
<div class="n" style="grid-area:43/42">2289</div>
<div class="n" style="grid-area:43/43">2288</div>
<div class="n r d4" style="grid-area:43/44">2287</div>
<div class="n" style="grid-area:43/45">2286</div>
<div class="n r d4" style="grid-area:43/46">2285</div>
<div class="n" style="grid-area:43/47">2284</div>
<div class="n g d4" style="grid-area:43/48">2283</div>
<div class="n p d4" style="grid-area:46/32">2340</div>
<div class="n" style="grid-area:46/33">2267</div>
<div class="n" style="grid-area:46/34">2268</div>
<div class="n r d4" style="grid-area:46/35">2269</div>
<div class="n r d4" style="grid-area:46/36">2270</div>
<div class="n r d4" style="grid-area:46/37">2270</div>
<div class="n y d4" style="grid-area:46/38">2272</div>
<div class="n" style="grid-area:46/39">2273</div>
<div class="n" style="grid-area:46/40">2274</div>
<div class="n" style="grid-area:46/41">2275</div>
<div class="n" style="grid-area:46/42">2276</div>
<div class="n p d4" style="grid-area:46/43">2277</div>
<div class="n" style="grid-area:46/44">2278</div>
<div class="n" style="grid-area:46/45">2279</div>
<div class="n r d4" style="grid-area:46/46">2280</div>
<div class="n" style="grid-area:46/47">2281</div>
<div class="n y d4" style="grid-area:46/48">2282</div>
<div class="l o" style="grid-area:47/32">吉宗</div>
<div class="l o" style="grid-area:47/33">吉宗</div>
<div class="l o" style="grid-area:47/34">吉宗</div>
<div class="l o" style="grid-area:47/35">吉宗</div>
<div class="l o" style="grid-area:47/36">吉宗</div>
<div class="l o" style="grid-area:47/37">吉宗</div>
<div class="l o" style="grid-area:47/38">吉宗</div>
<div class="l o" style="grid-area:47/39">吉宗</div>
<div class="l o" style="grid-area:47/40">吉宗</div>
<div class="l o" style="grid-area:47/41"><span><b>L</b>東京喰種</span></div>
<div class="l o" style="grid-area:47/42"><span><b>L</b>東京喰種</span></div>
<div class="l o" style="grid-area:47/43"><span><b>L</b>東京喰種</span></div>
<div class="l o" style="grid-area:47/44"><span><b>L</b>東京喰種</span></div>
<div class="l o" style="grid-area:47/45"><span><b>L</b>東京喰種</span></div>
<div class="l o" style="grid-area:47/46"><span><b>L</b>東京喰種</span></div>
<div class="l o" style="grid-area:47/47"><span><b>L</b>東京喰種</span></div>
<div class="l o" style="grid-area:47/48"><span><b>L</b>東京喰種</span></div>
<div class="l o" style="grid-area:48/32"><span><b>L</b>咲</span></div>
<div class="l o" style="grid-area:48/33"><span><b>L</b>咲</span></div>
<div class="l o" style="grid-area:48/34"><span><b>L</b>咲</span></div>
<div class="l o" style="grid-area:48/35"><span><b>L</b>転剣</span></div>
<div class="l o" style="grid-area:48/36"><span><b>L</b>転剣</span></div>
<div class="l o" style="grid-area:48/37"><span><b>L</b>転剣</span></div>
<div class="l" style="grid-area:48/38">からくり<br>サーカス</div>
<div class="l" style="grid-area:48/39">からくり<br>サーカス</div>
<div class="l" style="grid-area:48/40">からくり<br>サーカス</div>
<div class="l" style="grid-area:48/41">からくり<br>サーカス</div>
<div class="l" style="grid-area:48/42">からくり<br>サーカス</div>
<div class="l" style="grid-area:48/43">からくり<br>サーカス</div>
<div class="l" style="grid-area:48/44">からくり<br>サーカス</div>
<div class="l" style="grid-area:48/45">からくり<br>サーカス</div>
<div class="l o" style="grid-area:48/46">かぐや様</div>
<div class="l o" style="grid-area:48/47">かぐや様</div>
<div class="l o" style="grid-area:48/48">かぐや様</div>
<div class="n" style="grid-area:49/32">2339</div>
<div class="n y d4" style="grid-area:49/33">2266</div>
<div class="n r d4" style="grid-area:49/34">2265</div>
<div class="n p d4" style="grid-area:49/35">2264</div>
<div class="n r d4" style="grid-area:49/36">2263</div>
<div class="n r d4" style="grid-area:49/37">2263</div>
<div class="n" style="grid-area:49/38">2261</div>
<div class="n" style="grid-area:49/39">2260</div>
<div class="n" style="grid-area:49/40">2259</div>
<div class="n" style="grid-area:49/41">2258</div>
<div class="n" style="grid-area:49/42">2257</div>
<div class="n" style="grid-area:49/43">2256</div>
<div class="n w" style="grid-area:49/44">2255</div>
<div class="n" style="grid-area:49/45">2254</div>
<div class="n" style="grid-area:49/46">2253</div>
<div class="n" style="grid-area:49/47">2252</div>
<div class="n" style="grid-area:49/48">2251</div>
<div class="n y d4" style="grid-area:40/50">2345</div>
<div class="l o" style="grid-area:40/51">かぐや様</div>
<div class="n" style="grid-area:41/50">2322</div>
<div class="l o" style="grid-area:41/51">かぐや様</div>
<div class="n p d4" style="grid-area:42/50">2321</div>
<div class="l o" style="grid-area:42/51">かぐや様</div>
<div class="n" style="grid-area:43/50">2320</div>
<div class="l o" style="grid-area:43/51">かぐや様</div>
<div class="n p d4" style="grid-area:44/50">2319</div>
<div class="l o" style="grid-area:44/51">かぐや様</div>
<div class="n r d4" style="grid-area:45/50">2318</div>
<div class="l o" style="grid-area:45/51">かぐや様</div>
<div class="n" style="grid-area:46/50">2317</div>
<div class="l o" style="grid-area:46/51">かぐや様</div>
<div class="n" style="grid-area:47/50">2316</div>
<div class="l o" style="grid-area:47/51">かぐや様</div>
<div class="n y d4" style="grid-area:48/50">2315</div>
<div class="l o" style="grid-area:48/51">かぐや様</div>
<div class="n" style="grid-area:49/50">2344</div>
<div class="l o" style="grid-area:49/51">かぐや様</div>
<div class="n" style="grid-area:50/50">2343</div>
<div class="l o" style="grid-area:50/51">かぐや様</div>
<div class="n" style="grid-area:52/33">2238</div>
<div class="n" style="grid-area:52/34">2239</div>
<div class="n" style="grid-area:52/35">2240</div>
<div class="n" style="grid-area:52/36">2241</div>
<div class="n w" style="grid-area:52/37">2242</div>
<div class="n" style="grid-area:52/38">2243</div>
<div class="n" style="grid-area:52/39">2244</div>
<div class="n" style="grid-area:52/40">2245</div>
<div class="n g d4" style="grid-area:52/41">2246</div>
<div class="n" style="grid-area:52/42">2247</div>
<div class="n" style="grid-area:52/43">2248</div>
<div class="n" style="grid-area:52/44">2249</div>
<div class="n" style="grid-area:52/45">2250</div>
<div class="l o" style="grid-area:53/33"><span>戦国乙女<b>4</b></span></div>
<div class="l o" style="grid-area:53/34"><span>戦国乙女<b>4</b></span></div>
<div class="l o" style="grid-area:53/35"><span>戦国乙女<b>4</b></span></div>
<div class="l o" style="grid-area:53/36"><span>戦国乙女<b>4</b></span></div>
<div class="l o" style="grid-area:53/37">ゴジエヴァ</div>
<div class="l o" style="grid-area:53/38">ゴジエヴァ</div>
<div class="l" style="grid-area:53/39">ヴァルヴレ<br>イヴ</div>
<div class="l" style="grid-area:53/40">ヴァルヴレ<br>イヴ</div>
<div class="l" style="grid-area:53/41">ヴァルヴレ<br>イヴ</div>
<div class="l" style="grid-area:53/42">ヴァルヴレ<br>イヴ</div>
<div class="l" style="grid-area:53/43">からくり<br>サーカス</div>
<div class="l" style="grid-area:53/44">からくり<br>サーカス</div>
<div class="l" style="grid-area:53/45">からくり<br>サーカス</div>
<div class="l" style="grid-area:54/32">モンハンラ<br>イズ</div>
<div class="l" style="grid-area:54/33">モンハンラ<br>イズ</div>
<div class="l" style="grid-area:54/34">モンハンラ<br>イズ</div>
<div class="l" style="grid-area:54/35">モンハンラ<br>イズ</div>
<div class="l" style="grid-area:54/36">モンハンラ<br>イズ</div>
<div class="l o" style="grid-area:54/37"><span><b>SBJ</b></span></div>
<div class="l o" style="grid-area:54/38"><span><b>SBJ</b></span></div>
<div class="l o" style="grid-area:54/39"><span><b>SBJ</b></span></div>
<div class="l o" style="grid-area:54/40">マギレコ</div>
<div class="l o" style="grid-area:54/41">マギレコ</div>
<div class="l o" style="grid-area:54/42">マギレコ</div>
<div class="l o" style="grid-area:54/43">マギレコ</div>
<div class="l o" style="grid-area:54/44">マギレコ</div>
<div class="l o" style="grid-area:54/45">マギレコ</div>
<div class="n w" style="grid-area:55/32">2338</div>
<div class="n" style="grid-area:55/33">2209</div>
<div class="n" style="grid-area:55/34">2208</div>
<div class="n" style="grid-area:55/35">2207</div>
<div class="n y d4" style="grid-area:55/36">2206</div>
<div class="n" style="grid-area:55/37">2205</div>
<div class="n r d4" style="grid-area:55/38">2204</div>
<div class="n g d4" style="grid-area:55/39">2203</div>
<div class="n" style="grid-area:55/40">2202</div>
<div class="n r d4" style="grid-area:55/41">2201</div>
<div class="n" style="grid-area:55/42">2200</div>
<div class="n r d4" style="grid-area:55/43">2199</div>
<div class="n r d4" style="grid-area:55/44">2198</div>
<div class="n g d4" style="grid-area:55/45">2197</div>
<div class="n y d4" style="grid-area:58/32">2337</div>
<div class="n" style="grid-area:58/33">2184</div>
<div class="n w" style="grid-area:58/34">2185</div>
<div class="n" style="grid-area:58/35">2186</div>
<div class="n" style="grid-area:58/36">2187</div>
<div class="n p d4" style="grid-area:58/37">2188</div>
<div class="n" style="grid-area:58/38">2189</div>
<div class="n p d4" style="grid-area:58/39">2190</div>
<div class="n" style="grid-area:58/40">2191</div>
<div class="n" style="grid-area:58/41">2192</div>
<div class="n p d4" style="grid-area:58/42">2193</div>
<div class="n r d4" style="grid-area:58/43">2194</div>
<div class="n" style="grid-area:58/44">2195</div>
<div class="n y d4" style="grid-area:58/45">2196</div>
<div class="l" style="grid-area:59/32">モンハンラ<br>イズ</div>
<div class="l" style="grid-area:59/33">モンハンラ<br>イズ</div>
<div class="l" style="grid-area:59/34">モンハンラ<br>イズ</div>
<div class="l" style="grid-area:59/35">モンハンラ<br>イズ</div>
<div class="l" style="grid-area:59/36">モンハンラ<br>イズ</div>
<div class="l o" style="grid-area:59/37"><span><b>SBJ</b></span></div>
<div class="l o" style="grid-area:59/38"><span><b>SBJ</b></span></div>
<div class="l o" style="grid-area:59/39"><span><b>SBJ</b></span></div>
<div class="l o" style="grid-area:59/40"><span><b>SBJ</b></span></div>
<div class="l o" style="grid-area:59/41">マギレコ</div>
<div class="l o" style="grid-area:59/42">マギレコ</div>
<div class="l o" style="grid-area:59/43">マギレコ</div>
<div class="l o" style="grid-area:59/44">マギレコ</div>
<div class="l o" style="grid-area:59/45">マギレコ</div>
<div class="l" style="grid-area:60/32"><span>モンキー<br>ターン<b>V</b></span></div>
<div class="l" style="grid-area:60/33"><span>モンキー<br>ターン<b>V</b></span></div>
<div class="l" style="grid-area:60/34"><span>モンキー<br>ターン<b>V</b></span></div>
<div class="l" style="grid-area:60/35"><span>モンキー<br>ターン<b>V</b></span></div>
<div class="l" style="grid-area:60/36"><span>モンキー<br>ターン<b>V</b></span></div>
<div class="l" style="grid-area:60/37"><span>モンキー<br>ターン<b>V</b></span></div>
<div class="l" style="grid-area:60/38"><span>モンキー<br>ターン<b>V</b></span></div>
<div class="l" style="grid-area:60/39"><span>モンキー<br>ターン<b>V</b></span></div>
<div class="l" style="grid-area:60/40"><span>モンキー<br>ターン<b>V</b></span></div>
<div class="l" style="grid-area:60/41"><span><b>L</b>ゴッド<br>イーター</span></div>
<div class="l" style="grid-area:60/42"><span><b>L</b>ゴッド<br>イーター</span></div>
<div class="l" style="grid-area:60/43"><span><b>L</b>ゴッド<br>イーター</span></div>
<div class="l" style="grid-area:60/44"><span><b>L</b>ゴッド<br>イーター</span></div>
<div class="l" style="grid-area:60/45"><span><b>L</b>ゴッド<br>イーター</span></div>
<div class="n" style="grid-area:61/32">2336</div>
<div class="n" style="grid-area:61/33">2144</div>
<div class="n" style="grid-area:61/34">2143</div>
<div class="n y d4" style="grid-area:61/35">2142</div>
<div class="n" style="grid-area:61/36">2141</div>
<div class="n" style="grid-area:61/37">2140</div>
<div class="n" style="grid-area:61/38">2139</div>
<div class="n r d4" style="grid-area:61/39">2138</div>
<div class="n" style="grid-area:61/40">2137</div>
<div class="n" style="grid-area:61/41">2136</div>
<div class="n" style="grid-area:61/42">2135</div>
<div class="n p d4" style="grid-area:61/43">2134</div>
<div class="n y d4" style="grid-area:61/44">2133</div>
<div class="n" style="grid-area:61/45">2132</div>
<div class="n" style="grid-area:64/32">2335</div>
<div class="n" style="grid-area:64/33">2118</div>
<div class="n" style="grid-area:64/34">2119</div>
<div class="n" style="grid-area:64/35">2120</div>
<div class="n y d4" style="grid-area:64/36">2121</div>
<div class="n g d4" style="grid-area:64/37">2122</div>
<div class="n" style="grid-area:64/38">2123</div>
<div class="n" style="grid-area:64/39">2124</div>
<div class="n g d4" style="grid-area:64/40">2125</div>
<div class="n" style="grid-area:64/41">2126</div>
<div class="n" style="grid-area:64/42">2127</div>
<div class="n r d4" style="grid-area:64/43">2128</div>
<div class="n p d4" style="grid-area:64/44">2129</div>
<div class="n y d4" style="grid-area:64/45">2130</div>
<div class="l" style="grid-area:65/32"><span>モンキー<br>ターン<b>V</b></span></div>
<div class="l" style="grid-area:65/33"><span>モンキー<br>ターン<b>V</b></span></div>
<div class="l" style="grid-area:65/34"><span>モンキー<br>ターン<b>V</b></span></div>
<div class="l" style="grid-area:65/35"><span>モンキー<br>ターン<b>V</b></span></div>
<div class="l" style="grid-area:65/36"><span>モンキー<br>ターン<b>V</b></span></div>
<div class="l" style="grid-area:65/37"><span>モンキー<br>ターン<b>V</b></span></div>
<div class="l" style="grid-area:65/38"><span>モンキー<br>ターン<b>V</b></span></div>
<div class="l" style="grid-area:65/39"><span>モンキー<br>ターン<b>V</b></span></div>
<div class="l" style="grid-area:65/40"><span><b>L</b>ゴッド<br>イーター</span></div>
<div class="l" style="grid-area:65/41"><span><b>L</b>ゴッド<br>イーター</span></div>
<div class="l" style="grid-area:65/42"><span><b>L</b>ゴッド<br>イーター</span></div>
<div class="l" style="grid-area:65/43"><span><b>L</b>ゴッド<br>イーター</span></div>
<div class="l" style="grid-area:65/44"><span><b>L</b>ゴッド<br>イーター</span></div>
<div class="l" style="grid-area:65/45"><span><b>L</b>ゴッド<br>イーター</span></div>
<div class="l" style="grid-area:66/32">東京リベン<br>ジャーズ</div>
<div class="l" style="grid-area:66/33">東京リベン<br>ジャーズ</div>
<div class="l" style="grid-area:66/34">東京リベン<br>ジャーズ</div>
<div class="l" style="grid-area:66/35">東京リベン<br>ジャーズ</div>
<div class="l" style="grid-area:66/36">東京リベン<br>ジャーズ</div>
<div class="l" style="grid-area:66/37">東京リベン<br>ジャーズ</div>
<div class="l" style="grid-area:66/38">東京リベン<br>ジャーズ</div>
<div class="l" style="grid-area:66/39">東京リベン<br>ジャーズ</div>
<div class="l o" style="grid-area:66/40"><span>いざ<b>!</b>番長</span></div>
<div class="l o" style="grid-area:66/41"><span>いざ<b>!</b>番長</span></div>
<div class="l o" style="grid-area:66/42"><span>いざ<b>!</b>番長</span></div>
<div class="l o" style="grid-area:66/43"><span>いざ<b>!</b>番長</span></div>
<div class="l o" style="grid-area:66/44"><span>いざ<b>!</b>番長</span></div>
<div class="l o" style="grid-area:66/45"><span>いざ<b>!</b>番長</span></div>
<div class="n" style="grid-area:67/32">2334</div>
<div class="n r d4" style="grid-area:67/33">2061</div>
<div class="n" style="grid-area:67/34">2060</div>
<div class="n" style="grid-area:67/35">2059</div>
<div class="n r d4" style="grid-area:67/36">2058</div>
<div class="n" style="grid-area:67/37">2057</div>
<div class="n" style="grid-area:67/38">2056</div>
<div class="n p d4" style="grid-area:67/39">2055</div>
<div class="n p d4" style="grid-area:67/40">2054</div>
<div class="n w" style="grid-area:67/41">2053</div>
<div class="n" style="grid-area:67/42">2052</div>
<div class="n" style="grid-area:67/43">2051</div>
<div class="n r d4" style="grid-area:67/44">2050</div>
<div class="n" style="grid-area:67/45">2049</div>
<div class="n" style="grid-area:70/32">2333</div>
<div class="n" style="grid-area:70/33">2038</div>
<div class="n" style="grid-area:70/34">2039</div>
<div class="n" style="grid-area:70/35">2040</div>
<div class="n" style="grid-area:70/36">2041</div>
<div class="n" style="grid-area:70/37">2042</div>
<div class="n" style="grid-area:70/38">2043</div>
<div class="n" style="grid-area:70/39">2044</div>
<div class="n" style="grid-area:70/40">2045</div>
<div class="n p d4" style="grid-area:70/41">2046</div>
<div class="n" style="grid-area:70/42">2047</div>
<div class="n" style="grid-area:70/43">2048</div>
<div class="l" style="grid-area:71/32">東京リベン<br>ジャーズ</div>
<div class="l" style="grid-area:71/33">東京リベン<br>ジャーズ</div>
<div class="l" style="grid-area:71/34">東京リベン<br>ジャーズ</div>
<div class="l" style="grid-area:71/35">東京リベン<br>ジャーズ</div>
<div class="l" style="grid-area:71/36">東京リベン<br>ジャーズ</div>
<div class="l" style="grid-area:71/37">東京リベン<br>ジャーズ</div>
<div class="l" style="grid-area:71/38">東京リベン<br>ジャーズ</div>
<div class="l" style="grid-area:71/39">東京リベン<br>ジャーズ</div>
<div class="l o" style="grid-area:71/40">ななつま</div>
<div class="l o" style="grid-area:71/41">ななつま</div>
<div class="l o" style="grid-area:71/42">わた婚</div>
<div class="l o" style="grid-area:71/43">わた婚</div>
<div class="i" style="grid-area:69/47/72/49"><svg width="100" height="73" viewBox="0 0 100 73"><g transform="translate(-2.1 -3.2) scale(1.072)" fill="none" stroke="#333"><rect x="19.2" y="11" width="55.9" height="50.6" rx="7" fill="#fff" stroke-width="4.9"/><path d="M48.6 21.3C44.6 21.9 42.4 24.6 42.6 27.6C42.8 30.7 45 33 47.6 33.5C49.6 33.9 49.4 35.6 50.4 36.8C52.2 39 55 38.6 57.6 38.9C60 39.3 61.2 41 61.7 42.8M55.7 20.4C59.2 21 61.5 23.6 61.3 26.8C61.1 30.6 58 32.8 54.8 33.2C57.6 32.6 60.6 33.4 62.6 35C64.8 37 65.1 39.5 65 42.4" stroke-width="1.7"/><path d="M27.8 45.9h30.9v5.9h-30.9zM60.7 45.9h1.9v5.9h-1.9zM64.5 45.9h2v5.9h-2z" fill="#333" stroke="none"/></g></svg></div>
<div class="ky" style="grid-area:73/37"></div>
<div class="kt" style="grid-area:73/38/74/40">+1,000枚以上</div>
<div class="kg" style="grid-area:73/40"></div>
<div class="kt" style="grid-area:73/41/74/43">+2,000枚以上</div>
<div class="kr" style="grid-area:73/43"></div>
<div class="kt" style="grid-area:73/44/74/46">+3,000枚以上</div>
<div class="kp" style="grid-area:73/46"></div>
<div class="kt" style="grid-area:73/47/74/49">+5,000枚以上</div>
<div class="kw" style="grid-area:73/49"></div>
<div class="kt" style="grid-area:73/50/74/52">+10,000枚以上</div>
</div><div id="bar"></div><div id="re"></div><div id="te"></div></body></html>
